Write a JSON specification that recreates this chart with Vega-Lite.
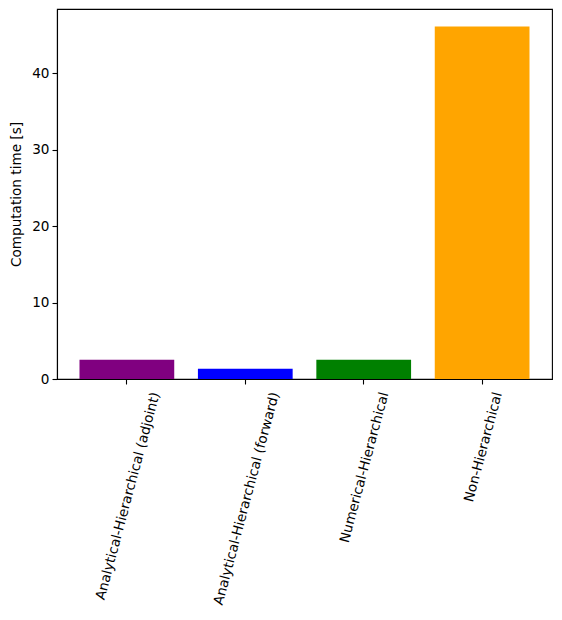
{
  "$schema": "https://vega.github.io/schema/vega-lite/v6.json",
  "autosize": "none",
  "width": 495,
  "height": 370,
  "padding": {"left": 57, "top": 9, "right": 10, "bottom": 241},
  "background": "white",
  "data": {
    "values": [
      {"method": "Analytical-Hierarchical (adjoint)", "time": 2.53},
      {"method": "Analytical-Hierarchical (forward)", "time": 1.35},
      {"method": "Numerical-Hierarchical", "time": 2.53},
      {"method": "Non-Hierarchical", "time": 46.1}
    ]
  },
  "mark": {"type": "bar"},
  "encoding": {
    "x": {
      "field": "method",
      "type": "nominal",
      "sort": null,
      "scale": {"paddingInner": 0.2, "paddingOuter": 0.19},
      "axis": {
        "title": null,
        "labelAngle": -75,
        "labelAlign": "right",
        "labelBaseline": "middle",
        "labelLimit": 0,
        "labelPadding": 8,
        "labelOffset": {
          "condition": [
            {"test": "datum.value === 'Analytical-Hierarchical (adjoint)'", "value": 29},
            {"test": "datum.value === 'Analytical-Hierarchical (forward)'", "value": 30},
            {"test": "datum.value === 'Numerical-Hierarchical'", "value": 21}
          ],
          "value": 16
        }
      }
    },
    "y": {
      "field": "time",
      "type": "quantitative",
      "scale": {"domain": [0, 48.4], "nice": false, "zero": true},
      "axis": {
        "title": "Computation time [s]",
        "values": [0, 10, 20, 30, 40],
        "titlePadding": 8,
        "labelPadding": 3
      }
    },
    "color": {
      "field": "method",
      "type": "nominal",
      "sort": null,
      "scale": {
        "domain": ["Analytical-Hierarchical (adjoint)", "Analytical-Hierarchical (forward)", "Numerical-Hierarchical", "Non-Hierarchical"],
        "range": ["#800080", "#0000ff", "#008000", "#ffa500"]
      },
      "legend": null
    }
  },
  "config": {
    "view": {"stroke": "black", "strokeWidth": 1.1},
    "axis": {
      "grid": false,
      "domainColor": "black",
      "domainWidth": 1.1,
      "tickColor": "black",
      "tickWidth": 1.1,
      "tickSize": 5,
      "labelFont": "DejaVu Sans",
      "labelFontSize": 13.6,
      "labelColor": "black",
      "titleFont": "DejaVu Sans",
      "titleFontSize": 13.6,
      "titleFontWeight": "normal",
      "titleColor": "black"
    }
  }
}
